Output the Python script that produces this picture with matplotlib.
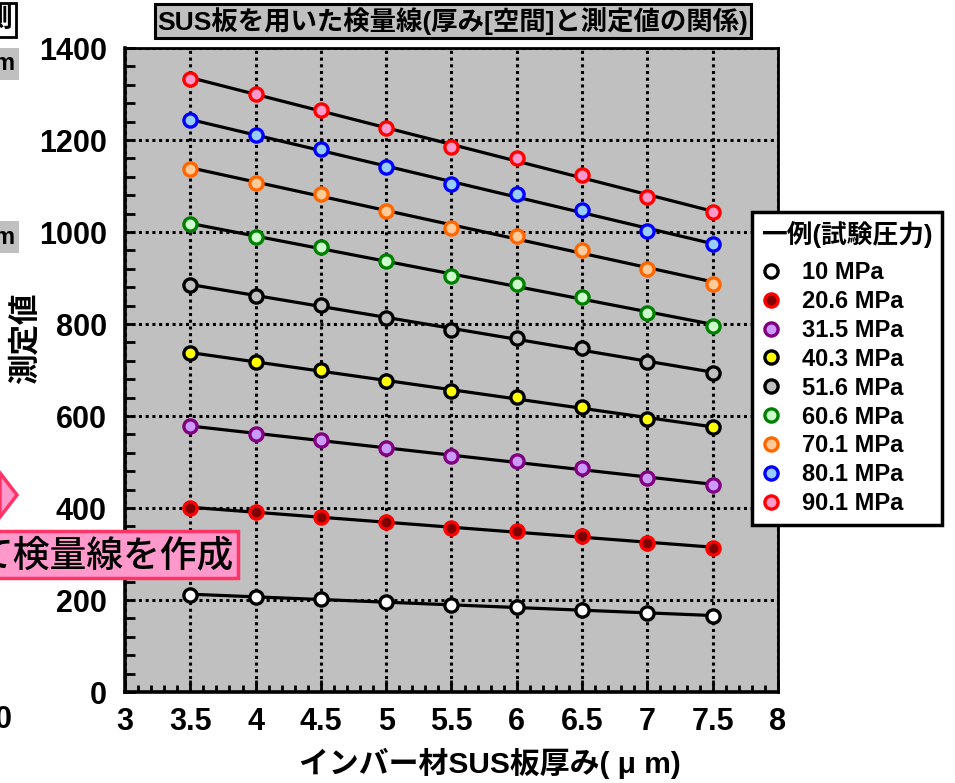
#!/usr/bin/env python3
"""Calibration lines from SUS shims: thickness vs. measured value."""

import matplotlib

matplotlib.use("Agg")
import matplotlib.pyplot as plt
import numpy as np
from matplotlib.lines import Line2D
from matplotlib.patches import Polygon, Rectangle
from matplotlib.ticker import MultipleLocator

plt.rcParams["font.family"] = ["Liberation Sans", "Noto Sans CJK JP", "DejaVu Sans"]

THICKNESS = [3.5, 4.0, 4.5, 5.0, 5.5, 6.0, 6.5, 7.0, 7.5]
PRESSURES = ["10 MPa", "20.6 MPa", "31.5 MPa", "40.3 MPa", "51.6 MPa",
             "60.6 MPa", "70.1 MPa", "80.1 MPa", "90.1 MPa"]
P10 = [211, 207, 202, 196, 189, 185, 178, 172, 165]
P20 = [400, 391, 380, 370, 357, 350, 339, 324, 313]
P31 = [578, 561, 548, 530, 513, 502, 487, 465, 450]
P40 = [737, 717, 700, 676, 654, 641, 620, 593, 576]
P51 = [885, 861, 841, 813, 787, 770, 748, 717, 693]
P60 = [1017, 989, 967, 937, 904, 887, 859, 824, 796]
P70 = [1137, 1107, 1083, 1046, 1009, 991, 961, 920, 887]
P80 = [1243, 1211, 1180, 1141, 1104, 1083, 1048, 1002, 974]
P90 = [1333, 1300, 1265, 1226, 1185, 1161, 1124, 1076, 1043]
SERIES = [P10, P20, P31, P40, P51, P60, P70, P80, P90]

FACES = ["#FFFFFF", "#800000", "#CC99FF", "#FFFF00", "#C0C0C0",
         "#CCFFCC", "#FFCC99", "#99CCFF", "#FF99CC"]
EDGES = ["#000000", "#FF0000", "#800080", "#000000", "#000000",
         "#008000", "#FF6600", "#0000FF", "#FF0000"]

W, H = 955, 783
fig = plt.figure(figsize=(W / 100, H / 100), dpi=100)
ax = fig.add_axes([125 / W, 1 - 692 / H, 653 / W, 644 / H])
ax.set_facecolor("#C0C0C0")

x = np.array(THICKNESS)
for values, face, edge in zip(SERIES, FACES, EDGES):
    slope, icpt = np.polyfit(x, values, 1)
    ax.plot([x[0], x[-1]], [slope * x[0] + icpt, slope * x[-1] + icpt],
            color="black", lw=2.3, zorder=3)
    ax.plot(x, values, "o", ms=9.5, mfc=face, mec=edge, mew=2.4, zorder=4)

ax.set_xlim(3, 8)
ax.set_ylim(0, 1400)
ax.xaxis.set_major_locator(MultipleLocator(0.5))
ax.xaxis.set_minor_locator(MultipleLocator(0.1))
ax.yaxis.set_major_locator(MultipleLocator(200))
ax.yaxis.set_minor_locator(MultipleLocator(40))
ax.set_xticks(np.arange(3, 8.01, 0.5), ["3", "3.5", "4", "4.5", "5", "5.5",
                                         "6", "6.5", "7", "7.5", "8"])
ax.tick_params(which="both", direction="in", width=2, labelsize=22,
               top=False, right=False)
ax.tick_params(axis="x", which="major", length=9, pad=11)
ax.tick_params(axis="x", which="minor", length=5)
ax.tick_params(axis="y", which="both", length=7, pad=13)
for lab in ax.get_xticklabels() + ax.get_yticklabels():
    lab.set_fontweight("bold")
ax.grid(which="major", color="black", lw=2.2, linestyle=(0, (1, 1.2)))
for side in ("left", "bottom"):
    ax.spines[side].set_linewidth(2.6)
for side in ("top", "right"):
    ax.spines[side].set_linewidth(2.0)

fig.text(490 / W, 1 - 763 / H, "インバー材SUS板厚み( μ m)", fontsize=21.5,
         fontweight="bold", ha="center", va="center")
fig.text(25 / W, 1 - 338 / H, "測定値", rotation=90, fontsize=22,
         fontweight="bold", family=["Noto Sans CJK JP"],
         ha="center", va="center")

fig.text(453 / W, 1 - 21 / H, "SUS板を用いた検量線(厚み[空間]と測定値の関係)",
         fontsize=19, fontweight="bold", ha="center", va="center",
         bbox=dict(boxstyle="square,pad=0.1", fc="#C0C0C0", ec="black", lw=2.2))

handles = [Line2D([], [], ls="none", marker="o", ms=9.5, mfc=f, mec=e, mew=2.4)
           for f, e in zip(FACES, EDGES)]
leg = fig.legend(handles, PRESSURES, title="一例(試験圧力)",
                 loc="upper left", bbox_to_anchor=(752 / W, 1 - 212 / H),
                 prop=dict(size=17, weight="bold"), fancybox=False,
                 framealpha=1, edgecolor="black", handlelength=0.8,
                 handletextpad=0.9, labelspacing=0.25, borderpad=0.4,
                 borderaxespad=0, alignment="left")
leg.get_title().set_fontsize(18.5)
leg.get_title().set_fontweight("bold")
leg.get_frame().set_linewidth(2.5)
leg._legend_box.sep = 9

# fragments of neighbouring slide content
fig.text(12 / W, 1 - 20 / H, "測", fontsize=20, fontweight="bold",
         ha="right", va="center",
         bbox=dict(boxstyle="square,pad=0.15", fc="white", ec="black", lw=2))
for yc in (64, 237):
    fig.text(14 / W, 1 - yc / H, "m", fontsize=17, fontweight="bold",
             ha="right", va="center",
             bbox=dict(boxstyle="square,pad=0.2", fc="#C0C0C0", ec="none"))
fig.patches.append(Polygon([(0, 1 - 473 / H), (17 / W, 1 - 495 / H),
                            (0, 1 - 517 / H)], closed=True,
                           transform=fig.transFigure, fc="#FF99CC",
                           ec="#FF3366", lw=2.5))
fig.patches.append(Rectangle((-5 / W, 1 - 578 / H), 243 / W, 47 / H,
                             transform=fig.transFigure, fc="#FF99CC",
                             ec="#FF3366", lw=2.5))
fig.text(233 / W, 1 - 555 / H, "て検量線を作成", fontsize=26.5,
         fontweight="medium", family=["Noto Sans CJK JP"],
         ha="right", va="center")
fig.text(12 / W, 1 - 720 / H, "0", fontsize=22, fontweight="bold",
         ha="right", va="center")

fig.savefig("out.png", dpi=100)
